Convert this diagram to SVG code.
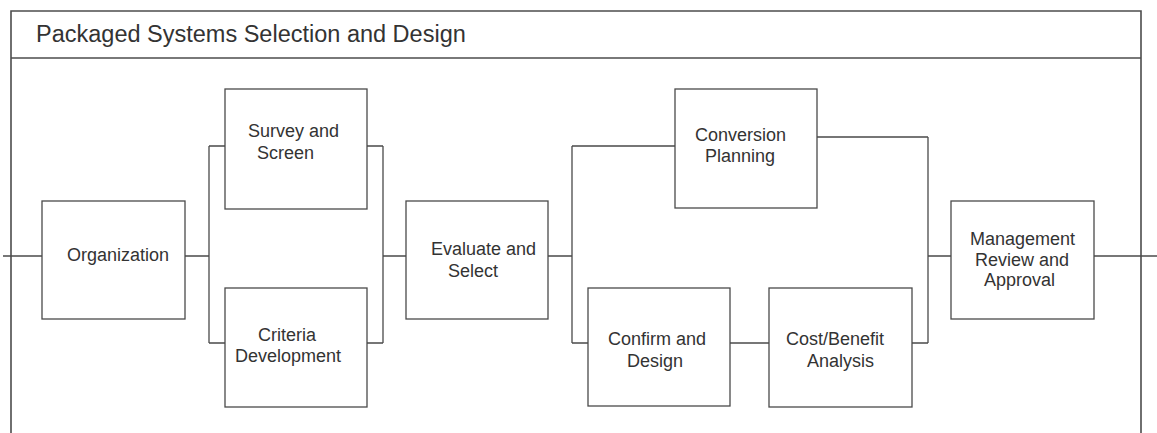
<svg xmlns="http://www.w3.org/2000/svg" width="1157" height="433" viewBox="0 0 1157 433">
  <style>
    .frame { fill: none; stroke: #4d4d4d; stroke-width: 1.6; }
    .box { fill: #ffffff; stroke: #4a4a4a; stroke-width: 1.3; }
    .wire { fill: none; stroke: #4a4a4a; stroke-width: 1.3; }
    .title { font-family: "Liberation Sans", Arial, sans-serif; font-size: 23.5px; fill: #333333; }
    .label { font-family: "Liberation Sans", Arial, sans-serif; font-size: 18px; fill: #333333; }
  </style>
  <rect width="1157" height="433" fill="#ffffff"/>

  <!-- outer frame with header band (open at the bottom) -->
  <g id="frame">
    <path class="frame" d="M11,433 V11 H1141 V433"/>
    <path class="frame" d="M11,58 H1141"/>
    <text class="title" x="36" y="42">Packaged Systems Selection and Design</text>
  </g>

  <!-- connectors -->
  <g id="connectors">
    <path class="wire" d="M3,256 H42"/>
    <path class="wire" d="M185,256 H209 M209,146 V343 M209,146 H225 M209,343 H225"/>
    <path class="wire" d="M367,146 H383 M367,343 H383 M383,146 V343 M383,256 H406"/>
    <path class="wire" d="M548,256 H572 M572,146 V343 M572,146 H675 M572,343 H588"/>
    <path class="wire" d="M730,343 H769"/>
    <path class="wire" d="M817,137 H928 M928,137 V343 M912,343 H928 M928,256 H951"/>
    <path class="wire" d="M1094,256 H1157"/>
  </g>

  <g id="organization">
    <rect class="box" x="42" y="201" width="143" height="118"/>
    <text class="label" x="67" y="261">Organization</text>
  </g>

  <g id="survey-and-screen">
    <rect class="box" x="225" y="89" width="142" height="120"/>
    <text class="label" x="248" y="137">Survey and</text>
    <text class="label" x="257" y="159">Screen</text>
  </g>

  <g id="criteria-development">
    <rect class="box" x="225" y="288" width="142" height="119"/>
    <text class="label" x="258" y="341">Criteria</text>
    <text class="label" x="235" y="362">Development</text>
  </g>

  <g id="evaluate-and-select">
    <rect class="box" x="406" y="201" width="142" height="118"/>
    <text class="label" x="431" y="255">Evaluate and</text>
    <text class="label" x="448" y="277">Select</text>
  </g>

  <g id="conversion-planning">
    <rect class="box" x="675" y="89" width="142" height="119"/>
    <text class="label" x="695" y="140.5">Conversion</text>
    <text class="label" x="705" y="162">Planning</text>
  </g>

  <g id="confirm-and-design">
    <rect class="box" x="588" y="288" width="142" height="118"/>
    <text class="label" x="608" y="344.5">Confirm and</text>
    <text class="label" x="627" y="366.5">Design</text>
  </g>

  <g id="cost-benefit-analysis">
    <rect class="box" x="769" y="288" width="143" height="119"/>
    <text class="label" x="786" y="345">Cost/Benefit</text>
    <text class="label" x="807" y="367">Analysis</text>
  </g>

  <g id="management-review">
    <rect class="box" x="951" y="201" width="143" height="118"/>
    <text class="label" x="970" y="244.5">Management</text>
    <text class="label" x="975" y="265.5">Review and</text>
    <text class="label" x="984" y="286">Approval</text>
  </g>
</svg>
